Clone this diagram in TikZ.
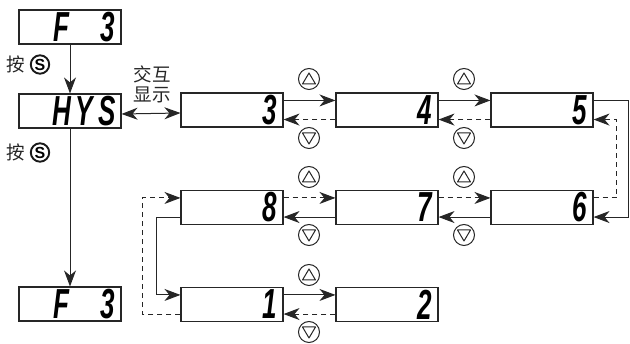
\documentclass[tikz,border=0pt]{standalone}
\usepackage{fontspec}
\setmainfont{Liberation Sans}
\newfontfamily\cjk{Noto Sans CJK SC}
\newfontfamily\segfont[FakeStretch=0.62]{Liberation Sans}
\usetikzlibrary{arrows.meta,calc}
\newcommand\dg[1]{\makebox[23pt][c]{\raisebox{-1.5pt}{#1}}}
\begin{document}
\begin{tikzpicture}[x=1pt,y=-1pt,
  >={Stealth[length=16pt,width=12pt,inset=5pt]},
  disp/.style={draw=black!85, line width=1.1pt, minimum width=102pt, minimum height=34pt,
    inner sep=0pt, text width=98pt, align=right,
    font=\segfont\bfseries\itshape\fontsize{42}{42}\selectfont},
  conn/.style={draw=black!85, line width=1pt},
  fw/.style={conn, ->},
  bw/.style={conn, ->, dash pattern=on 5pt off 4pt},
  btn/.style={circle, draw=black!85, line width=1pt, minimum size=21pt, inner sep=0pt},
  tri/.style={draw=black!85, line width=1pt, line join=round},
  sbtn/.style={circle, inner sep=0pt, font=\bfseries\fontsize{16}{16}\selectfont},
  ring/.style={draw=black!90, line width=1.9pt},
  lbl/.style={font=\cjk\fontsize{18.5}{20}\selectfont, inner sep=0pt, text=black!85}
]
\useasboundingbox (0,0) rectangle (630,344);

% displays
\node[disp] (f3a) at (70,27) {\dg{F}\dg{}\dg{3}};
\node[disp] (hys) at (70,111) {\dg{H}\dg{Y}\dg{S}};
\node[disp] (f3b) at (70,304) {\dg{F}\dg{}\dg{3}};
\node[disp] (b3) at (232,110) {\dg{3}};
\node[disp] (b4) at (387,110) {\dg{4}};
\node[disp] (b5) at (542,110) {\dg{5}};
\node[disp] (b6) at (542,207.5) {\dg{6}};
\node[disp] (b7) at (387,207.5) {\dg{7}};
\node[disp] (b8) at (232,207.5) {\dg{8}};
\node[disp] (b1) at (232,304.5) {\dg{1}};
\node[disp] (b2) at (387,304.5) {\dg{2}};

% labels
\node[lbl] (p1) at (16,64) {按};
\node[sbtn] (s1) at (40,64.5) {S};
\draw[ring] (s1.center) circle[radius=9.2];
\node[lbl] (p2) at (16,152) {按};
\node[sbtn] (s2) at (40,152.5) {S};
\draw[ring] (s2.center) circle[radius=9.2];
\node[lbl, align=center] (jh) at (152,84.5) {交互\\显示};

% vertical flow
\draw[fw] (f3a.south) -- (hys.north);
\draw[fw] (hys.south) -- (f3b.north);
\draw[conn, <->] ([yshift=-3pt]hys.east) -- ([yshift=-3pt]b3.west);

% row 1
\draw[fw] ([yshift=-8pt]b3.north east) -- ([yshift=-8pt]b4.north west);
\draw[bw] ([yshift=8pt]b4.south west) -- ([yshift=8pt]b3.south east);
\draw[fw] ([yshift=-8pt]b4.north east) -- ([yshift=-8pt]b5.north west);
\draw[bw] ([yshift=8pt]b5.south west) -- ([yshift=8pt]b4.south east);

% 5 <-> 6
\draw[fw] ([yshift=-8pt]b5.north east) -- ++(35,0) |- ([yshift=8pt]b6.south east);
\draw[bw] ([yshift=-8pt]b6.north east) -- ++(23,0) |- ([yshift=8pt]b5.south east);

% row 2
\draw[fw] ([yshift=8pt]b6.south west) -- ([yshift=8pt]b7.south east);
\draw[bw] ([yshift=-8pt]b7.north east) -- ([yshift=-8pt]b6.north west);
\draw[fw] ([yshift=8pt]b7.south west) -- ([yshift=8pt]b8.south east);
\draw[bw] ([yshift=-8pt]b8.north east) -- ([yshift=-8pt]b7.north west);

% 8 <-> 1
\draw[fw] ([yshift=8pt]b8.south west) -- ++(-24,0) |- ([yshift=-8pt]b1.north west);
\draw[bw] ([yshift=8pt]b1.south west) -- ++(-38,0) |- ([yshift=-8pt]b8.north west);

% row 3
\draw[fw] ([yshift=-8pt]b1.north east) -- ([yshift=-8pt]b2.north west);
\draw[bw] ([yshift=8pt]b2.south west) -- ([yshift=8pt]b1.south east);

% buttons
\foreach \n/\x/\y in {u1/309/79, u2/464/79, u3/464/177, u4/309/177, u5/309/275} {
  \node[btn] (\n) at (\x,\y) {};
  \draw[tri] ($(\n)+(0,-6)$) -- ($(\n)+(6.5,5)$) -- ($(\n)+(-6.5,5)$) -- cycle;
}
\foreach \n/\x/\y in {d1/309/138, d2/464/138, d3/464/235, d4/309/235, d5/309/332} {
  \node[btn] (\n) at (\x,\y) {};
  \draw[tri] ($(\n)+(0,6)$) -- ($(\n)+(6.5,-5)$) -- ($(\n)+(-6.5,-5)$) -- cycle;
}
\end{tikzpicture}
\end{document}
